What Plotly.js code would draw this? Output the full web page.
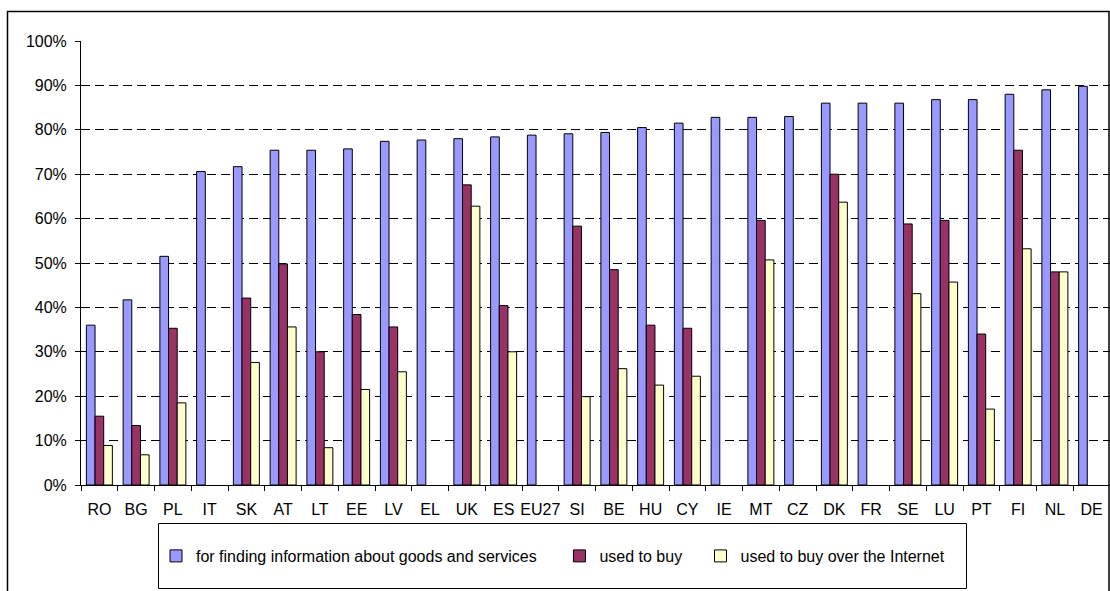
<!DOCTYPE html>
<html>
<head>
<meta charset="utf-8">
<script src="https://cdn.plot.ly/plotly-3.0.1.min.js"></script>
<style>html,body{margin:0;padding:0;background:#fff;}#chart{width:1110px;height:591px;}</style>
</head>
<body>
<div id="chart"></div>
<script>
const countries = ["RO","BG","PL","IT","SK","AT","LT","EE","LV","EL","UK","ES","EU27","SI","BE","HU","CY","IE","MT","CZ","DK","FR","SE","LU","PT","FI","NL","DE"];
const infoGoods = [36.0,41.7,51.5,70.6,71.7,75.4,75.4,75.7,77.4,77.7,78.0,78.4,78.8,79.1,79.4,80.5,81.5,82.8,82.8,83.0,86.0,86.0,86.0,86.8,86.8,88.0,89.0,89.8];
const usedToBuy = [15.5,13.4,35.3,null,42.1,49.8,30.0,38.4,35.6,null,67.6,40.4,null,58.3,48.5,36.0,35.3,null,59.6,null,70.0,null,58.8,59.6,34.0,75.4,48.0,null];
const buyInternet = [8.9,6.8,18.5,null,27.6,35.6,8.4,21.5,25.5,null,62.8,30.0,null,19.9,26.2,22.5,24.5,null,50.7,null,63.7,null,43.1,45.7,17.1,53.2,48.0,null];
const seriesNames = ["for finding information about goods and services","used to buy","used to buy over the Internet"];
const seriesColors = ["#9999FF","#993366","#FFFFCC"];
// extra spacing after legend entries (non-breaking spaces) to match reference layout
const legendPad = ["\u00A0\u00A0\u00A0\u00A0", "\u00A0\u00A0\u00A0", ""];

const W = 1110, H = 591, ML = 81, MR = 0, MT = 41, MB = 106;
const PW = W - ML - MR, PH = H - MT - MB;
const px = x => (x - ML) / PW;
const py = y => (H - MB - y) / PH;

const font = {family: "Liberation Sans, Arial, sans-serif", size: 16, color: "#000"};

const traces = [infoGoods, usedToBuy, buyInternet].map((vals, i) => ({
  type: "bar",
  name: seriesNames[i] + legendPad[i],
  x: countries,
  y: vals,
  marker: {color: seriesColors[i], line: {color: "#000", width: 1}},
  hoverinfo: "x+y"
}));

const layout = {
  width: W, height: H,
  margin: {l: ML, r: MR, t: MT, b: MB, pad: 0},
  paper_bgcolor: "#fff", plot_bgcolor: "#fff",
  font: font,
  barmode: "group",
  bargap: 0.293,
  bargroupgap: 0,
  showlegend: true,
  legend: {
    orientation: "h",
    x: px(156), xanchor: "left",
    y: py(556), yanchor: "middle",
    bgcolor: "rgba(0,0,0,0)",
    borderwidth: 0,
    font: font,
    traceorder: "normal"
  },
  xaxis: {
    type: "category",
    showline: true, linecolor: "#000", linewidth: 1,
    ticks: "outside", tickson: "boundaries", ticklen: 5, tickcolor: "#000",
    tickangle: 0,
    ticklabelstandoff: 10,
    showgrid: false,
    tickfont: font,
    fixedrange: true
  },
  yaxis: {
    range: [0, 100],
    dtick: 10,
    ticksuffix: "%",
    showline: true, linecolor: "#000", linewidth: 1,
    ticks: "outside", ticklen: 5, tickcolor: "#000",
    ticklabelstandoff: 5,
    showgrid: true, gridcolor: "#000", gridwidth: 1, griddash: "9px,5px",
    zeroline: false,
    tickfont: font,
    fixedrange: true
  },
  shapes: [
    {type: "rect", xref: "paper", yref: "paper", x0: px(7.5), x1: px(1109), y0: py(640), y1: py(11.5),
     line: {color: "#000", width: 1.5}, fillcolor: "rgba(0,0,0,0)", layer: "above"},
    {type: "rect", xref: "paper", yref: "paper", x0: px(158.5), x1: px(966.5), y0: py(588.5), y1: py(523.5),
     line: {color: "#000", width: 1}, fillcolor: "rgba(0,0,0,0)", layer: "above"}
  ]
};

Plotly.newPlot("chart", traces, layout, {staticPlot: true, displayModeBar: false});
</script>
</body>
</html>
